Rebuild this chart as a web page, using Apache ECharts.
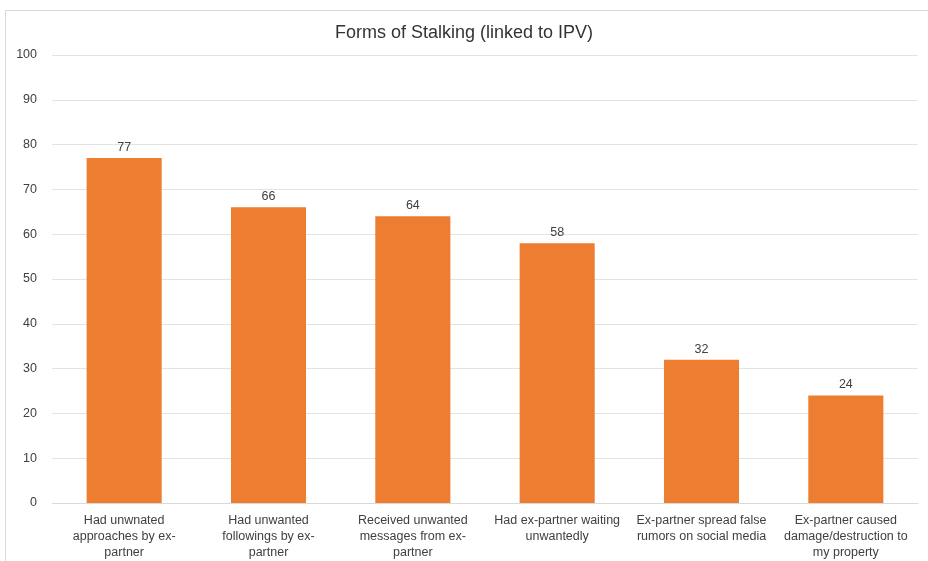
<!DOCTYPE html>
<html>
<head>
<meta charset="utf-8">
<script src="https://cdn.jsdelivr.net/npm/echarts@6/dist/echarts.min.js"></script>
<style>
    html, body { margin: 0; padding: 0; background: #fff; }
    #frame {
        position: absolute; left: 5px; top: 10px; width: 940px; height: 570px;
        border: 1px solid #d9d9d9; box-sizing: border-box;
    }
    #chart { position: absolute; left: 0; top: 0; width: 928px; height: 561px; }
</style>
</head>
<body>
<div id="frame"></div>
<div id="chart"></div>
<script>
// categories (line breaks as in the picture)
const categories = [
    "Had unwnated\napproaches by ex-\npartner",
    "Had unwanted\nfollowings by ex-\npartner",
    "Received unwanted\nmessages from ex-\npartner",
    "Had ex-partner waiting\nunwantedly",
    "Ex-partner spread false\nrumors on social media",
    "Ex-partner caused\ndamage/destruction to\nmy property",
];
const values = [77, 66, 64, 58, 32, 24];

const font = "'Liberation Sans', sans-serif";

const chart = echarts.init(document.getElementById("chart"));
chart.setOption({
    animation: false,
    title: {
        text: "Forms of Stalking (linked to IPV)",
        left: "center",
        top: 19,
        textStyle: { fontFamily: font, fontSize: 18, fontWeight: "normal", color: "#333" },
    },
    grid: { left: 52, right: 10, top: 55, bottom: 54, containLabel: false },
    xAxis: {
        type: "category",
        data: categories,
        axisTick: { show: false },
        axisLine: { lineStyle: { color: "#d9d9d9" } },
        axisLabel: {
            interval: 0,
            margin: 10,
            color: "#404040",
            fontFamily: font,
            fontSize: 12.5,
            lineHeight: 16,
        },
    },
    yAxis: {
        type: "value",
        min: 0,
        max: 100,
        interval: 10,
        axisLine: { show: false },
        axisTick: { show: false },
        splitLine: { lineStyle: { color: "#e3e3e3" } },
        axisLabel: { color: "#404040", fontFamily: font, fontSize: 12.5, margin: 15 },
    },
    series: [
        {
            type: "bar",
            data: values,
            barWidth: "52%",
            itemStyle: { color: "#ED7D31" },
            label: {
                show: true,
                position: "top",
                distance: 4,
                color: "#404040",
                fontFamily: font,
                fontSize: 12.5,
            },
        },
    ],
});
</script>
</body>
</html>
